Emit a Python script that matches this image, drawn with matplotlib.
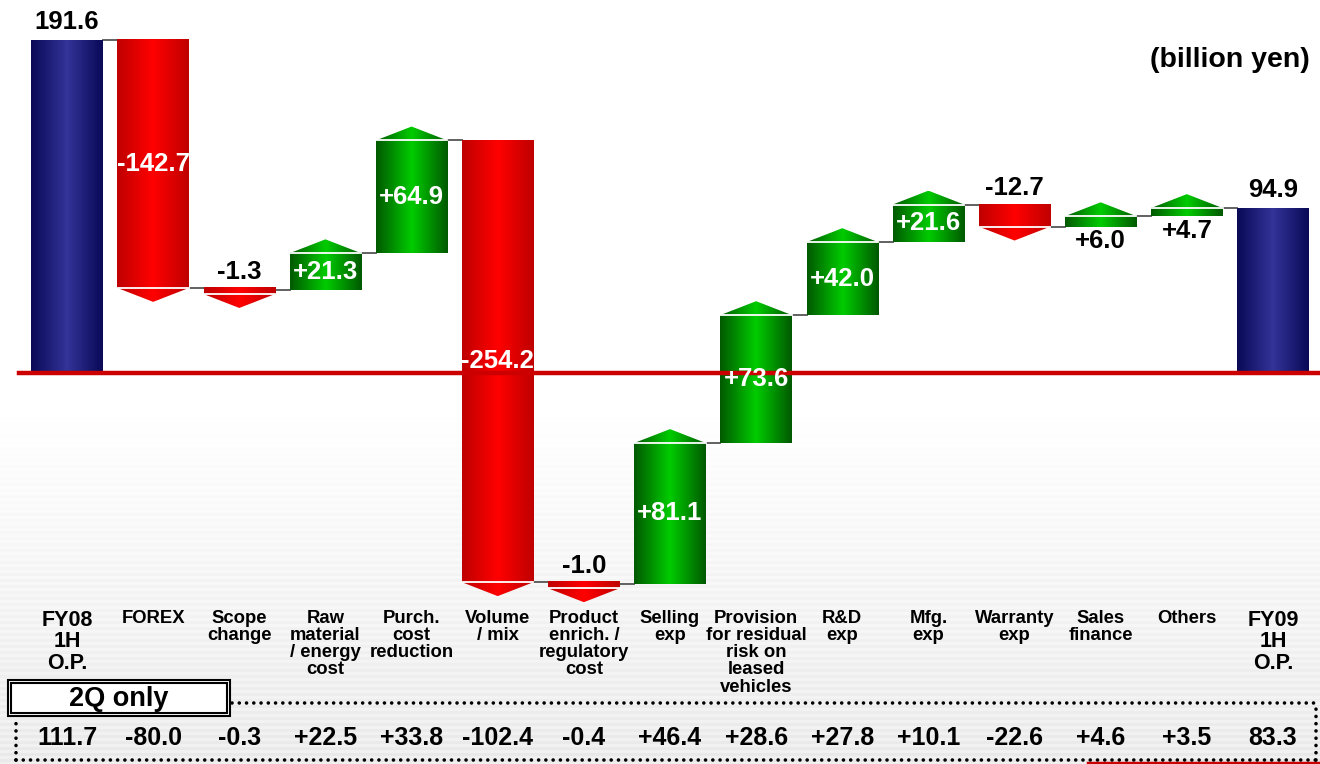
import numpy as np
import matplotlib
matplotlib.use('Agg')
import matplotlib.pyplot as plt
from matplotlib.colors import LinearSegmentedColormap
from matplotlib.patches import Polygon, Rectangle

plt.rcParams['font.family'] = ['Liberation Sans', 'DejaVu Sans']
plt.rcParams['font.weight'] = 'bold'

# Datos (billion yen)
categorias = ['FY08\n1H\nO.P.', 'FOREX', 'Scope\nchange', 'Raw\nmaterial\n/ energy\ncost',
              'Purch.\ncost\nreduction', 'Volume\n/ mix', 'Product\nenrich. /\nregulatory\ncost',
              'Selling\nexp', 'Provision\nfor residual\nrisk on\nleased\nvehicles', 'R&D\nexp',
              'Mfg.\nexp', 'Warranty\nexp', 'Sales\nfinance', 'Others', 'FY09\n1H\nO.P.']
inicio = 191.6
cambios = [-142.7, -1.3, 21.3, 64.9, -254.2, -1.0, 81.1, 73.6, 42.0, 21.6, -12.7, 6.0, 4.7]
final = 94.9
solo_2q = [111.7, -80.0, -0.3, 22.5, 33.8, -102.4, -0.4, 46.4, 28.6, 27.8, 10.1, -22.6, 4.6, 3.5, 83.3]

# Estilo
cmap_azul = LinearSegmentedColormap.from_list('azul', ['#0a0a58', '#333399', '#0a0a58'])
cmap_rojo = LinearSegmentedColormap.from_list('rojo', ['#c00000', '#ff0000', '#c00000'])
cmap_verde = LinearSegmentedColormap.from_list('verde', ['#005a00', '#00cc00', '#005a00'])
ancho = 0.83
flecha = 8.0       # altura de la punta
minimo = 3.5       # grosor minimo visible

fig = plt.figure(figsize=(13.2, 7.64), dpi=100)
ax = fig.add_axes([0, 0, 1, 1])
ax.axis('off')
xlim = (-0.778, 14.546)
ylim = (-225.0, 214.6)

# Fondo con rayas suaves
filas = np.arange(764)
t = np.clip((filas - 400) / 364.0, 0, 1)
fondo = 1.0 - 0.06 * t - 0.03 * t * ((filas // 3) % 2)
ax.imshow(fondo[:, None], cmap='gray', vmin=0, vmax=1, extent=(*xlim, *ylim),
          aspect='auto', zorder=0, interpolation='nearest')


def relleno(x0, x1, y0, y1, cmap, clip=None, z=2):
    im = ax.imshow(np.linspace(0, 1, 64)[None, :], cmap=cmap, extent=(x0, x1, y0, y1),
                   aspect='auto', zorder=z, interpolation='bicubic')
    if clip is not None:
        p = Polygon(clip, closed=True, facecolor='none', edgecolor='none', zorder=z)
        ax.add_patch(p)
        im.set_clip_path(p)


def etiqueta(x, y, texto, dy=0, va='center', color='black'):
    ax.annotate(texto, (x, y), xytext=(0, dy), textcoords='offset points',
                ha='center', va=va, fontsize=18.5, fontweight='bold', color=color, zorder=6)


# Barras de total
for i, v in [(0, inicio), (len(categorias) - 1, final)]:
    relleno(i - ancho / 2, i + ancho / 2, 0, v, cmap_azul)
    etiqueta(i, v, f'{v:.1f}', dy=4, va='bottom')

# Barras de variacion
nivel = inicio
niveles = [inicio]
for k, c in enumerate(cambios):
    i = k + 1
    x0, x1 = i - ancho / 2, i + ancho / 2
    if c >= 0:
        bajo, alto = nivel, nivel + max(c, minimo)
        relleno(x0, x1, bajo, alto, cmap_verde)
        relleno(x0, x1, alto, alto + flecha, cmap_verde,
                clip=[(x0, alto), (x1, alto), (i, alto + flecha)])
        ax.plot([x0, x1], [alto, alto], color='white', lw=1.3, zorder=3)
    else:
        alto, bajo = nivel, nivel - max(-c, minimo)
        relleno(x0, x1, bajo, alto, cmap_rojo)
        relleno(x0, x1, bajo - flecha, bajo, cmap_rojo,
                clip=[(x0, bajo), (x1, bajo), (i, bajo - flecha)])
        ax.plot([x0, x1], [bajo, bajo], color='white', lw=1.3, zorder=3)
    texto = f'{c:+.1f}'
    if abs(c) >= 20:
        etiqueta(i, (alto + bajo) / 2, texto, color='white')
    elif c < 0:
        etiqueta(i, alto, texto, dy=3, va='bottom')
    else:
        etiqueta(i, bajo, texto, dy=-2, va='top')
    nivel += c
    niveles.append(nivel)

# Lineas de conexion
for i, lv in enumerate(niveles):
    ax.plot([i + ancho / 2, i + 1 - ancho / 2], [lv, lv], color='#555555', lw=1.3, zorder=1.5)

# Linea cero
ax.plot([xlim[0] + 0.22, xlim[1]], [0, 0], color='#cc0000', lw=3.2, zorder=4)

# Etiquetas de categorias
trans = ax.get_xaxis_transform()
for i, cat in enumerate(categorias):
    grande = cat.startswith('FY')
    ax.text(i, 0.202, cat, transform=trans, ha='center', va='top',
            fontsize=15.5 if grande else 13.3, fontweight='bold',
            linespacing=1.05 if grande else 1.02, zorder=6)

# Fila "2Q only"
for i, v in enumerate(solo_2q):
    txt = f'{v:.1f}' if i in (0, len(solo_2q) - 1) else f'{v:+.1f}'
    ax.text(i, 0.034, txt, transform=trans, ha='center', va='center',
            fontsize=18, fontweight='bold', zorder=6)

ax.add_patch(Rectangle((8 / 1320, 1 - 716 / 764), 222 / 1320, 36 / 764, transform=ax.transAxes,
                       facecolor='white', edgecolor='black', lw=1.5, zorder=5))
ax.add_patch(Rectangle((11 / 1320, 1 - 713 / 764), 216 / 1320, 30 / 764, transform=ax.transAxes,
                       facecolor='white', edgecolor='black', lw=1.5, zorder=5))
ax.text(119 / 1320, 1 - 699 / 764, '2Q only', transform=ax.transAxes, ha='center', va='center',
        fontsize=19.5, fontweight='bold', zorder=6)

puntos = dict(color='black', lw=2.6, linestyle=(0, (0.01, 2.0)), dash_capstyle='round',
              transform=ax.transAxes, zorder=5)
ax.plot([232 / 1320, 1316 / 1320], [1 - 703 / 764, 1 - 703 / 764], **puntos)
ax.plot([16 / 1320, 1316 / 1320], [1 - 760 / 764, 1 - 760 / 764], **puntos)
ax.plot([16 / 1320, 16 / 1320], [1 - 760 / 764, 1 - 718 / 764], **puntos)
ax.plot([1316 / 1320, 1316 / 1320], [1 - 760 / 764, 1 - 703 / 764], **puntos)
ax.plot([1088 / 1320, 1], [0.0015, 0.0015], color='#cc0000', lw=2.5, transform=ax.transAxes, zorder=4)

ax.text(1310 / 1320, 1 - 60 / 764, '(billion yen)', transform=ax.transAxes, ha='right',
        va='center', fontsize=20.5, fontweight='bold')

ax.set_xlim(*xlim)
ax.set_ylim(*ylim)
fig.savefig('out.png', dpi=100)
